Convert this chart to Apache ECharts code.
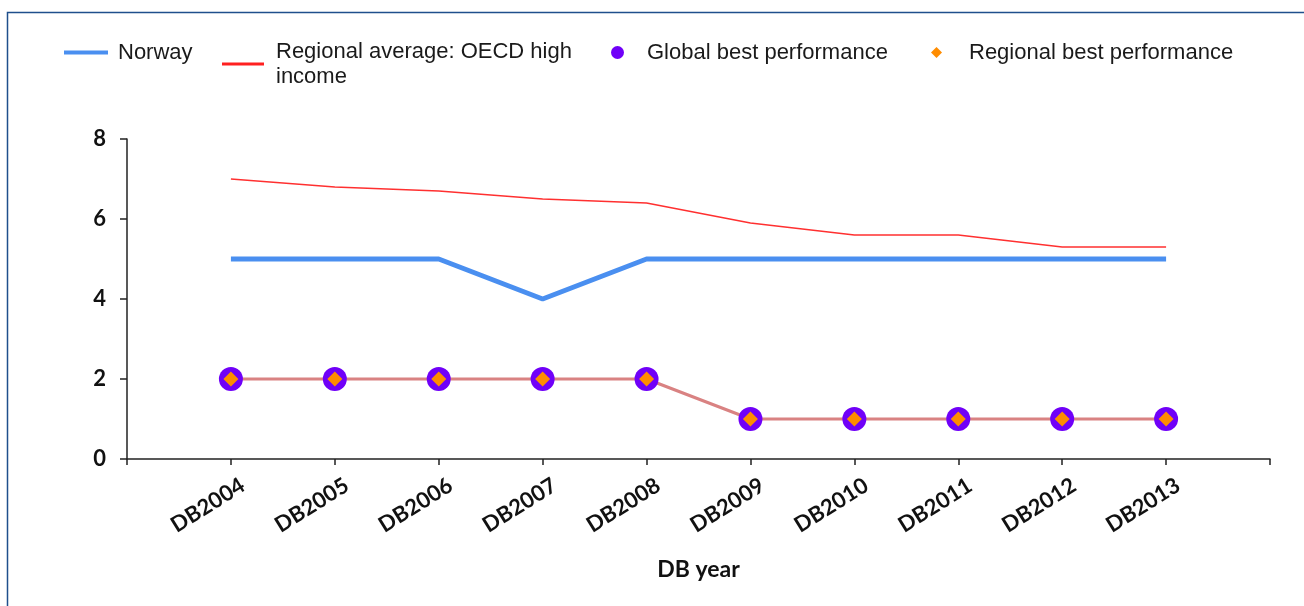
<!DOCTYPE html>
<html>
<head>
<meta charset="utf-8">
<style>
html,body{margin:0;padding:0;background:#fff;}
#chart{width:1304px;height:606px;}
</style>
<script src="https://cdn.jsdelivr.net/npm/echarts@6/dist/echarts.min.js"></script>
</head>
<body>
<div id="chart"></div>
<script>
const categories = ['DB2004','DB2005','DB2006','DB2007','DB2008','DB2009','DB2010','DB2011','DB2012','DB2013'];
const norway = [5,5,5,4,5,5,5,5,5,5];
const regionalAverage = [7.0,6.8,6.7,6.5,6.4,5.9,5.6,5.6,5.3,5.3];
const globalBest = [2,2,2,2,2,1,1,1,1,1];
const regionalBest = [2,2,2,2,2,1,1,1,1,1];
const yTicks = {min:0, max:8, interval:2};

const pad = arr => [null].concat(arr, [null]);
const axisCats = [''].concat(categories, ['']);

const chart = echarts.init(document.getElementById('chart'));
const legendText = {fontFamily:'Liberation Sans, Arial, sans-serif', fontSize:22, color:'#1a1a1a', lineHeight:25};
chart.setOption({
  animation:false,
  graphic:[{type:'rect', shape:{x:7.5,y:12.5,width:1400,height:700}, style:{fill:'none', stroke:'#1f4f8c', lineWidth:1.5}, silent:true}],
  legend:[
    {data:['Norway'], left:64, top:40, padding:0, icon:'rect', itemWidth:44, itemHeight:4, itemStyle:{borderWidth:0}, textStyle:Object.assign({padding:[0,0,0,5]},legendText)},
    {data:['Regional average: OECD high\nincome'], left:222, top:39, padding:0, icon:'rect', itemWidth:42, itemHeight:3, itemStyle:{borderWidth:0}, textStyle:Object.assign({padding:[0,0,0,7]},legendText)},
    {data:['Global best performance'], left:611, top:40, padding:0, icon:'circle', itemWidth:13, itemHeight:13, itemStyle:{borderWidth:0}, textStyle:Object.assign({padding:[0,0,0,18]},legendText)},
    {data:['Regional best performance'], left:931, top:40, padding:0, icon:'diamond', itemWidth:11, itemHeight:11, itemStyle:{borderWidth:0}, textStyle:Object.assign({padding:[0,0,0,22]},legendText)}
  ],
  grid:{left:127, right:34, top:139, bottom:147, containLabel:false},
  xAxis:{
    type:'category', data:axisCats, boundaryGap:false,
    axisLine:{lineStyle:{color:'#222', width:1.5}},
    axisTick:{show:true, interval:0, length:6, lineStyle:{color:'#222', width:1.5}},
    axisLabel:{interval:0, rotate:32, fontFamily:'Lato, sans-serif', fontWeight:'bold', fontSize:22, color:'#111', margin:32, padding:[0,-14,0,0]},
    name:'DB year', nameLocation:'middle', nameGap:99,
    nameTextStyle:{fontFamily:'Lato, sans-serif', fontWeight:'bold', fontSize:23, color:'#111'}
  },
  yAxis:{
    type:'value', min:yTicks.min, max:yTicks.max, interval:yTicks.interval,
    splitLine:{show:false},
    axisLine:{show:true, lineStyle:{color:'#222', width:1.5}},
    axisTick:{show:true, length:7, lineStyle:{color:'#222', width:1.5}},
    axisLabel:{fontFamily:'Lato, sans-serif', fontWeight:'bold', fontSize:22, color:'#111', margin:21}
  },
  series:[
    {name:'Norway', type:'line', data:pad(norway), symbol:'none', z:3,
      itemStyle:{color:'#4a8ff0'}, lineStyle:{color:'#4a8ff0', width:5}},
    {name:'Regional average: OECD high\nincome', type:'line', data:pad(regionalAverage), symbol:'none', z:2,
      itemStyle:{color:'#ff2020'}, lineStyle:{color:'#ff3030', width:1.5}},
    {name:'Global best performance', type:'line', data:pad(globalBest), symbol:'circle', symbolSize:24, z:4,
      itemStyle:{color:'#7000f8'}, lineStyle:{color:'#d98282', width:3}},
    {name:'Regional best performance', type:'line', data:pad(regionalBest), symbol:'diamond', symbolSize:15, z:5,
      itemStyle:{color:'#ff8c00'}, lineStyle:{width:0, opacity:0}}
  ]
});
</script>
</body>
</html>
